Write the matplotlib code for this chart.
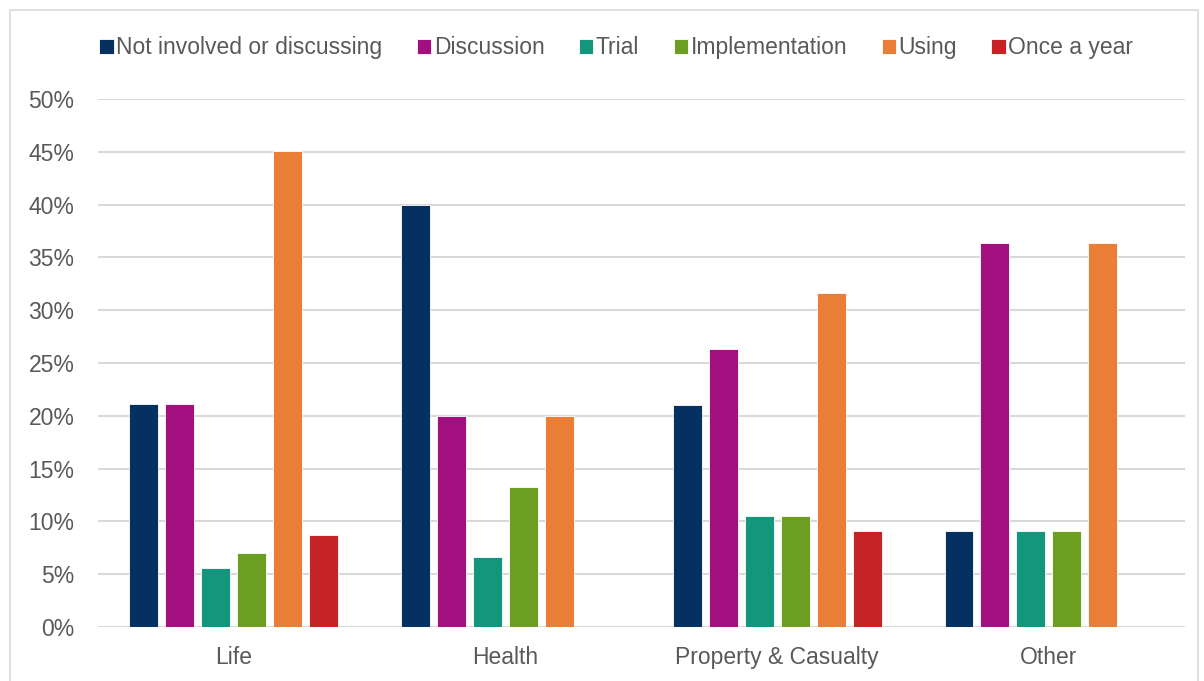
import numpy as np
import matplotlib.pyplot as plt
from matplotlib.patches import Rectangle

plt.rcParams['font.family'] = ['Liberation Sans', 'DejaVu Sans']

categories = ["Life", "Health", "Property & Casualty", "Other"]
series = ["Not involved or discussing", "Discussion", "Trial",
          "Implementation", "Using", "Once a year"]
colors = ["#06305F", "#A2107F", "#14967D", "#6B9E21", "#E97E37", "#C62326"]

not_involved = [21.1, 40.0, 21.05, 9.1]
discussion = [21.1, 20.0, 26.3, 36.4]
trial = [5.6, 6.6, 10.5, 9.1]
implementation = [7.0, 13.3, 10.5, 9.1]
using = [45.1, 20.0, 31.6, 36.4]
once_a_year = [8.7, 0.0, 9.1, 0.0]

values = [not_involved, discussion, trial, implementation, using, once_a_year]

text_col = "#595959"
fig = plt.figure(figsize=(12.04, 6.81), dpi=100)
ax = fig.add_axes([0.0814, 0.0793, 0.9026, 0.7753])

x = np.arange(len(categories))
pitch = 36 / 272
width = 29 / 272
for i, (name, vals) in enumerate(zip(series, values)):
    offs = (i - 2.5) * pitch
    ax.bar(x + offs, vals, width, color=colors[i], label=name,
           edgecolor="white", linewidth=0.6, zorder=3)

ax.set_xlim(-0.5, len(categories) - 0.5)
ax.set_ylim(0, 50)
ax.set_yticks(np.arange(0, 51, 5))
ax.set_yticklabels([f"{v}%" for v in range(0, 51, 5)])
ax.set_xticks(x)
ax.set_xticklabels(categories)
ax.grid(axis="y", color="#D9D9D9", linewidth=1.5, zorder=0)
for s in ax.spines.values():
    s.set_visible(False)
ax.tick_params(length=0, labelsize=16.5, colors=text_col, pad=14)
ax.tick_params(axis="y", pad=17)

leg = fig.legend(loc="center", bbox_to_anchor=(0.512, 0.93), ncol=6,
                 frameon=False, fontsize=16.5, handlelength=0.62,
                 handleheight=0.62, handletextpad=0.12, columnspacing=1.5)
for t in leg.get_texts():
    t.set_color(text_col)

fig.patches.append(Rectangle((10 / 1204, -0.01), 1188 / 1204, 1 - 10 / 681 + 0.01,
                             transform=fig.transFigure, fill=False,
                             edgecolor="#D9D9D9", linewidth=1.2))

fig.savefig("out.png", dpi=100)
